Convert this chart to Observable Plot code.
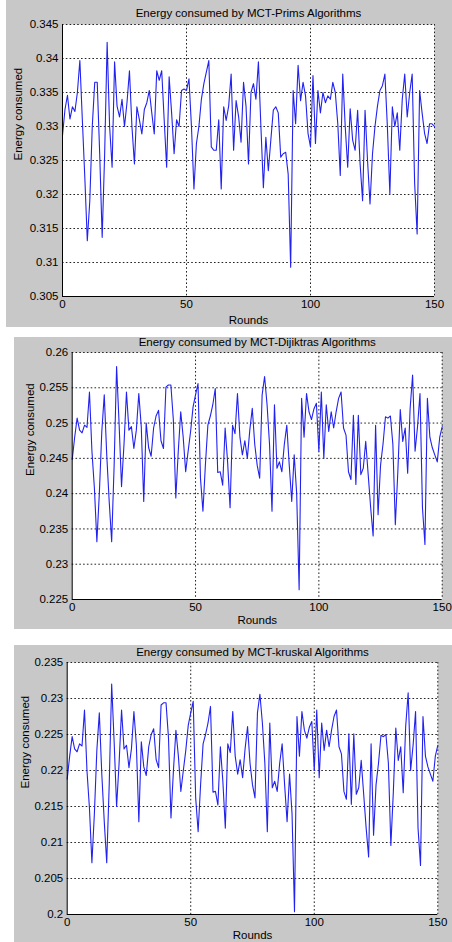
<!DOCTYPE html>
<html>
<head>
<meta charset="utf-8">
<script src="https://cdn.jsdelivr.net/npm/d3@7"></script>
<script src="https://cdn.jsdelivr.net/npm/@observablehq/plot@0.6"></script>
<style>
  html, body { margin: 0; padding: 0; background: #ffffff; }
  #root { position: relative; width: 452px; height: 942px; overflow: hidden; background: #ffffff; }
  .panel { position: absolute; background: #c8c8c8; }
  .panel svg { display: block; }
</style>
</head>
<body>
<div id="root"></div>
<script>
// ---------- data ----------
const xTicks = [0, 50, 100, 150];

const titlePrims = "Energy consumed by MCT-Prims Algorithms";
const titleDijkstra = "Energy consumed by MCT-Dijiktras Algorithms";
const titleKruskal = "Energy consumed by MCT-kruskal Algorithms";
const xLabel = "Rounds";
const yLabel = "Energy consumed";

const yTicksPrims = [0.305, 0.31, 0.315, 0.32, 0.325, 0.33, 0.335, 0.34, 0.345];
const yTicksDijkstra = [0.225, 0.23, 0.235, 0.24, 0.245, 0.25, 0.255, 0.26];
const yTicksKruskal = [0.2, 0.205, 0.21, 0.215, 0.22, 0.225, 0.23, 0.235];

const energyPrims = [
  0.3287, 0.3325, 0.3346, 0.3311, 0.3329, 0.3322, 0.3350, 0.3397, 0.3310, 0.3225,
  0.3132, 0.3190, 0.3300, 0.3365, 0.3365, 0.3260, 0.3137, 0.3260, 0.3424, 0.3300,
  0.3240, 0.3395, 0.3330, 0.3314, 0.3340, 0.3300, 0.3335, 0.3382, 0.3300, 0.3245,
  0.3329, 0.3310, 0.3289, 0.3325, 0.3335, 0.3353, 0.3320, 0.3289, 0.3382, 0.3368,
  0.3382, 0.3310, 0.3240, 0.3373, 0.3320, 0.3260, 0.3310, 0.3300, 0.3353, 0.3355,
  0.3353, 0.3370, 0.3300, 0.3208, 0.3275, 0.3300, 0.3340, 0.3363, 0.3380, 0.3397,
  0.3270, 0.3265, 0.3265, 0.3310, 0.3208, 0.3329, 0.3309, 0.3330, 0.3377, 0.3265,
  0.3338, 0.3315, 0.3277, 0.3365, 0.3330, 0.3245, 0.3350, 0.3363, 0.3340, 0.3395,
  0.3300, 0.3210, 0.3284, 0.3235, 0.3280, 0.3324, 0.3329, 0.3320, 0.3255, 0.3260,
  0.3262, 0.3230, 0.3093, 0.3353, 0.3304, 0.3390, 0.3338, 0.3365, 0.3345, 0.3290,
  0.3270, 0.3375, 0.3275, 0.3353, 0.3320, 0.3350, 0.3335, 0.3345, 0.3340, 0.3365,
  0.3350, 0.3304, 0.3228, 0.3377, 0.3300, 0.3240, 0.3326, 0.3280, 0.3265, 0.3324,
  0.3245, 0.3191, 0.3324, 0.3250, 0.3186, 0.3260, 0.3300, 0.3330, 0.3353, 0.3360,
  0.3377, 0.3300, 0.3201, 0.3329, 0.3300, 0.3320, 0.3265, 0.3340, 0.3377, 0.3314,
  0.3350, 0.3377, 0.3216, 0.3142, 0.3353, 0.3320, 0.3290, 0.3275, 0.3304, 0.3304,
  0.3300
];

const energyDijkstra = [
  0.2448, 0.2480, 0.2507, 0.2490, 0.2486, 0.2497, 0.2494, 0.2544, 0.2460, 0.2408,
  0.2332, 0.2400, 0.2488, 0.2540, 0.2455, 0.2389, 0.2332, 0.2440, 0.2580, 0.2500,
  0.2410, 0.2470, 0.2544, 0.2490, 0.2495, 0.2464, 0.2490, 0.2542, 0.2495, 0.2389,
  0.2500, 0.2465, 0.2453, 0.2493, 0.2510, 0.2518, 0.2475, 0.2464, 0.2551, 0.2554,
  0.2554, 0.2505, 0.2394, 0.2460, 0.2516, 0.2480, 0.2431, 0.2460, 0.2488, 0.2523,
  0.2540, 0.2556, 0.2422, 0.2375, 0.2441, 0.2497, 0.2510, 0.2526, 0.2549, 0.2430,
  0.2431, 0.2412, 0.2493, 0.2445, 0.2380, 0.2497, 0.2485, 0.2542, 0.2480, 0.2455,
  0.2475, 0.2450, 0.2490, 0.2521, 0.2470, 0.2440, 0.2422, 0.2540, 0.2566, 0.2526,
  0.2470, 0.2375, 0.2526, 0.2436, 0.2445, 0.2431, 0.2470, 0.2497, 0.2440, 0.2389,
  0.2455, 0.2400, 0.2264, 0.2535, 0.2480, 0.2542, 0.2516, 0.2505, 0.2520, 0.2528,
  0.2460, 0.2544, 0.2450, 0.2526, 0.2488, 0.2516, 0.2493, 0.2516, 0.2535, 0.2544,
  0.2493, 0.2483, 0.2431, 0.2420, 0.2511, 0.2413, 0.2511, 0.2427, 0.2436, 0.2474,
  0.2427, 0.2380, 0.2340, 0.2497, 0.2370, 0.2440, 0.2470, 0.2509, 0.2507, 0.2510,
  0.2470, 0.2356, 0.2430, 0.2519, 0.2474, 0.2493, 0.2429, 0.2521, 0.2568, 0.2460,
  0.2495, 0.2542, 0.2380, 0.2328, 0.2535, 0.2480, 0.2465, 0.2455, 0.2445, 0.2480,
  0.2495
];

const energyKruskal = [
  0.2188, 0.2220, 0.2247, 0.2230, 0.2226, 0.2237, 0.2234, 0.2284, 0.2200, 0.2148,
  0.2072, 0.2140, 0.2228, 0.2280, 0.2195, 0.2129, 0.2072, 0.2180, 0.2320, 0.2240,
  0.2150, 0.2210, 0.2284, 0.2230, 0.2235, 0.2204, 0.2230, 0.2282, 0.2235, 0.2129,
  0.2240, 0.2205, 0.2193, 0.2233, 0.2250, 0.2258, 0.2215, 0.2204, 0.2291, 0.2294,
  0.2294, 0.2245, 0.2134, 0.2200, 0.2256, 0.2220, 0.2171, 0.2200, 0.2228, 0.2263,
  0.2280, 0.2296, 0.2162, 0.2115, 0.2181, 0.2237, 0.2250, 0.2266, 0.2289, 0.2170,
  0.2171, 0.2152, 0.2233, 0.2185, 0.2120, 0.2237, 0.2225, 0.2282, 0.2220, 0.2195,
  0.2215, 0.2190, 0.2230, 0.2261, 0.2210, 0.2180, 0.2162, 0.2280, 0.2306, 0.2266,
  0.2210, 0.2115, 0.2266, 0.2176, 0.2185, 0.2171, 0.2210, 0.2237, 0.2180, 0.2129,
  0.2195, 0.2140, 0.2004, 0.2275, 0.2220, 0.2282, 0.2256, 0.2245, 0.2260, 0.2268,
  0.2200, 0.2284, 0.2190, 0.2266, 0.2228, 0.2256, 0.2233, 0.2256, 0.2275, 0.2284,
  0.2233, 0.2223, 0.2171, 0.2160, 0.2251, 0.2153, 0.2251, 0.2167, 0.2176, 0.2214,
  0.2167, 0.2120, 0.2080, 0.2237, 0.2110, 0.2180, 0.2210, 0.2249, 0.2247, 0.2250,
  0.2210, 0.2096, 0.2170, 0.2259, 0.2214, 0.2233, 0.2169, 0.2261, 0.2308, 0.2200,
  0.2235, 0.2282, 0.2120, 0.2068, 0.2275, 0.2220, 0.2205, 0.2195, 0.2185, 0.2220,
  0.2235
];

// ---------- drawing ----------
const FONT = "'Liberation Sans', Arial, Helvetica, sans-serif";
const FS = 11.5;
const lineColor = "#2222f0";
const dotted = {stroke: "#222", strokeDasharray: "1.6,2.2", strokeWidth: 1};

function drawPanel(cfg) {
  const table = cfg.values.map((v, i) => ({round: i, energy: v}));
  const yMin = cfg.yTicks[0], yMax = cfg.yTicks[cfg.yTicks.length - 1];
  const fmt = d => String(+d.toFixed(3));
  const chart = Plot.plot({
    width: cfg.width,
    height: cfg.height,
    marginLeft: cfg.ml, marginRight: cfg.mr, marginTop: cfg.mt, marginBottom: cfg.mb,
    style: {background: "transparent", fontFamily: FONT, fontSize: FS + "px", color: "#000", overflow: "visible"},
    x: {domain: [0, 150], axis: null},
    y: {domain: [yMin, yMax], axis: null},
    marks: [
      Plot.frame({fill: "#ffffff", stroke: null}),
      Plot.ruleY(cfg.yTicks.slice(1, -1), dotted),
      Plot.ruleX(xTicks.slice(1, -1), dotted),
      Plot.ruleY([yMax], dotted),
      Plot.ruleX([150], dotted),
      Plot.line(table, {x: "round", y: "energy", stroke: lineColor, strokeWidth: 1.1}),
      Plot.ruleX([0], {stroke: "#000", strokeWidth: 1}),
      Plot.ruleY([yMin], {stroke: "#000", strokeWidth: 1}),
      Plot.axisY(cfg.yTicks, {tickSize: 0, tickPadding: 4, tickFormat: fmt, label: null, fontSize: FS}),
      Plot.axisX(xTicks, {tickSize: 0, tickPadding: 3, label: null, fontSize: FS}),
      Plot.text([cfg.title], {text: d => d, frameAnchor: "top", dy: cfg.titleDy, fontSize: FS, lineAnchor: "middle"}),
      Plot.text([xLabel], {text: d => d, frameAnchor: "bottom", dy: cfg.xLabelDy, fontSize: FS, lineAnchor: "middle"}),
      Plot.text([yLabel], {text: d => d, frameAnchor: "left", dx: cfg.yLabelDx, rotate: -90, fontSize: FS, lineAnchor: "middle"})
    ]
  });
  const div = document.createElement("div");
  div.className = "panel";
  div.style.left = cfg.left + "px";
  div.style.top = cfg.top + "px";
  div.style.width = cfg.width + "px";
  div.style.height = cfg.height + "px";
  div.appendChild(chart);
  document.getElementById("root").appendChild(div);
}

drawPanel({
  values: energyPrims, yTicks: yTicksPrims, title: titlePrims,
  left: 6, top: 0, width: 446, height: 327,
  ml: 56, mr: 18, mt: 24, mb: 31,
  titleDy: -11.5, xLabelDy: 23.5, yLabelDx: -44
});

drawPanel({
  values: energyDijkstra, yTicks: yTicksDijkstra, title: titleDijkstra,
  left: 14, top: 337, width: 438, height: 292,
  ml: 57.7, mr: 10.3, mt: 15, mb: 30,
  titleDy: -10, xLabelDy: 21, yLabelDx: -42
});

drawPanel({
  values: energyKruskal, yTicks: yTicksKruskal, title: titleKruskal,
  left: 14, top: 645, width: 438, height: 297,
  ml: 52.7, mr: 14.7, mt: 17, mb: 28,
  titleDy: -10, xLabelDy: 21, yLabelDx: -42
});
</script>
</body>
</html>
